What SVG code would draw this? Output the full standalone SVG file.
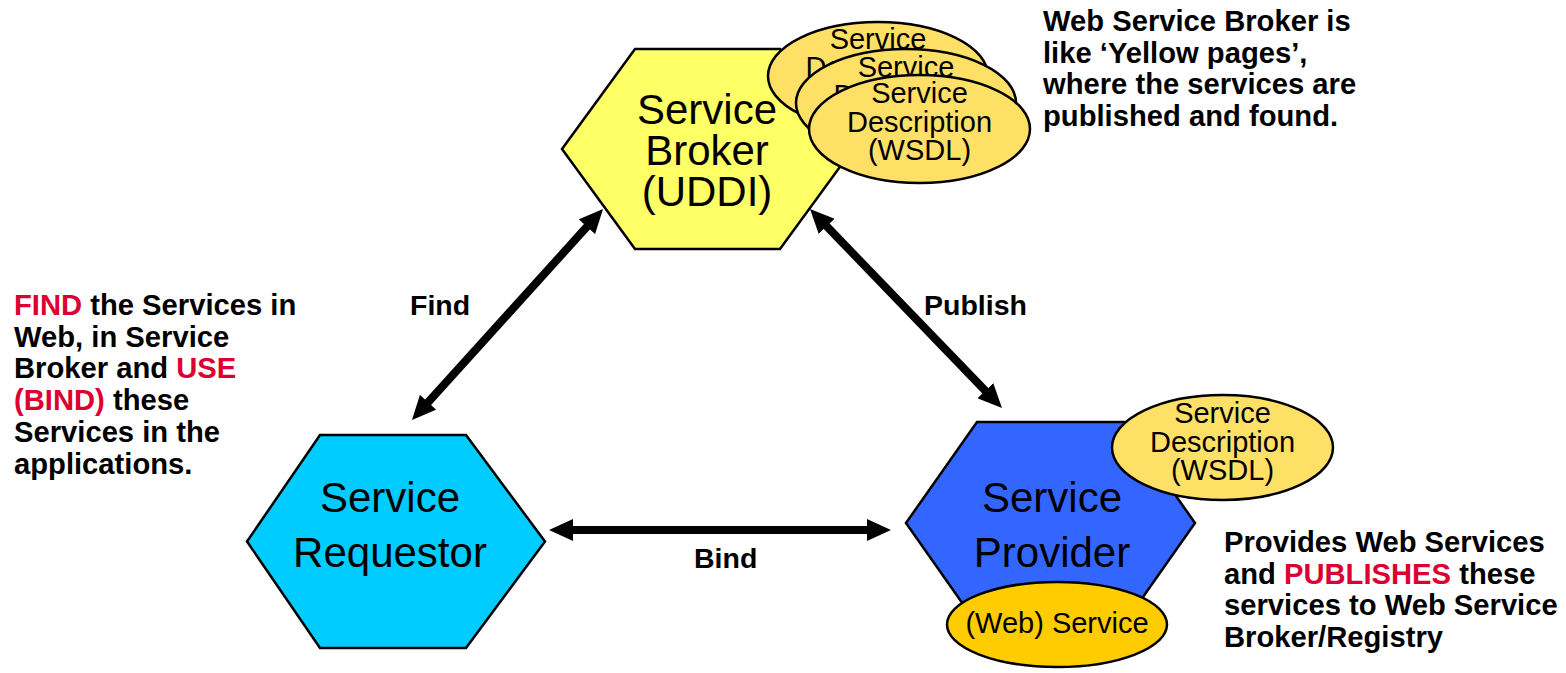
<svg xmlns="http://www.w3.org/2000/svg" width="1566" height="673" viewBox="0 0 1566 673">
<defs>
<style>
.hex{stroke:#000;stroke-width:2.5}
.ell{fill:#FFE066;stroke:#000;stroke-width:2.5}
.nt{font-family:"Liberation Sans",Arial,sans-serif;font-size:42px;text-anchor:middle;fill:#000}
.et{font-family:"Liberation Sans",Arial,sans-serif;font-size:29px;text-anchor:middle;fill:#000}
.bt{font-family:"Liberation Sans",Arial,sans-serif;font-size:28.5px;font-weight:bold;fill:#000}
.nb{font-family:"Liberation Sans",Arial,sans-serif;font-size:29.2px;font-weight:bold;fill:#000}
.red{fill:#DC0032}
.conn{stroke:#000;stroke-width:8;fill:none}
</style>
<marker id="ah" viewBox="0 0 24 22" refX="4" refY="11" markerWidth="24" markerHeight="22" markerUnits="userSpaceOnUse" orient="auto-start-reverse">
<path d="M0,0 L24,11 L0,22 z" fill="#000"/>
</marker>
</defs>
<rect width="1566" height="673" fill="#fff"/>

<g id="connectors">
<line class="conn" x1="569" y1="530" x2="871" y2="530" marker-start="url(#ah)" marker-end="url(#ah)"/>
<line class="conn" x1="425.4" y1="405.2" x2="589.6" y2="223.8" marker-start="url(#ah)" marker-end="url(#ah)"/>
<line class="conn" x1="823.9" y1="223.4" x2="988.1" y2="393.6" marker-start="url(#ah)" marker-end="url(#ah)"/>
<text class="bt" x="410" y="315">Find</text>
<text class="bt" x="924" y="315">Publish</text>
<text class="bt" x="694" y="568">Bind</text>
</g>

<g id="broker">
<polygon class="hex" fill="#FFFF66" points="562,149 635,49 780,49 853,149 780,249 635,249"/>
<text class="nt" x="707" y="124">Service</text>
<text class="nt" x="707" y="165">Broker</text>
<text class="nt" x="707" y="206">(UDDI)</text>
</g>

<g id="broker-desc-1">
<ellipse class="ell" cx="878" cy="76" rx="110" ry="54"/>
<text class="et" x="878" y="49">Service</text>
<text class="et" x="878" y="77">Description</text>
<text class="et" x="878" y="105">(WSDL)</text>
</g>
<g id="broker-desc-2">
<ellipse class="ell" cx="906" cy="103" rx="110" ry="54"/>
<text class="et" x="906" y="77">Service</text>
<text class="et" x="906" y="105">Description</text>
<text class="et" x="906" y="133">(WSDL)</text>
</g>
<g id="broker-desc-3">
<ellipse class="ell" cx="919.5" cy="129" rx="110.5" ry="54"/>
<text class="et" x="919.5" y="103">Service</text>
<text class="et" x="919.5" y="132">Description</text>
<text class="et" x="919.5" y="160">(WSDL)</text>
</g>

<g id="requestor">
<polygon class="hex" fill="#00CCFF" points="247,541.5 320,435 466,435 545,541.5 466,648 320,648"/>
<text class="nt" x="390" y="512">Service</text>
<text class="nt" x="390" y="567">Requestor</text>
</g>

<g id="provider">
<polygon class="hex" fill="#3366FF" points="906,523 977,422 1124,422 1195,523 1124,624 977,624"/>
<text class="nt" x="1052" y="512">Service</text>
<text class="nt" x="1052" y="567">Provider</text>
</g>

<g id="provider-desc">
<ellipse class="ell" cx="1222.5" cy="447.5" rx="110.5" ry="52.5"/>
<text class="et" x="1222.5" y="423">Service</text>
<text class="et" x="1222.5" y="452">Description</text>
<text class="et" x="1222.5" y="480">(WSDL)</text>
</g>

<g id="web-service">
<ellipse cx="1057" cy="624.5" rx="110" ry="42.5" fill="#FFCC00" stroke="#000" stroke-width="2.5"/>
<text class="et" x="1057" y="633">(Web) Service</text>
</g>

<g id="note-find">
<text class="nb" x="14" y="315"><tspan class="red">FIND</tspan> the Services in</text>
<text class="nb" x="14" y="346.7">Web, in Service</text>
<text class="nb" x="14" y="378.4">Broker and <tspan class="red">USE</tspan></text>
<text class="nb" x="14" y="410.1"><tspan class="red">(BIND)</tspan> these</text>
<text class="nb" x="14" y="441.8">Services in the</text>
<text class="nb" x="14" y="473.5">applications.</text>
</g>

<g id="note-broker">
<text class="nb" x="1043" y="31">Web Service Broker is</text>
<text class="nb" x="1043" y="62.7">like ‘Yellow pages’,</text>
<text class="nb" x="1043" y="94.4">where the services are</text>
<text class="nb" x="1043" y="126.1">published and found.</text>
</g>

<g id="note-provider">
<text class="nb" x="1224" y="552">Provides Web Services</text>
<text class="nb" x="1224" y="583.7">and <tspan class="red">PUBLISHES</tspan> these</text>
<text class="nb" x="1224" y="615.4">services to Web Service</text>
<text class="nb" x="1224" y="647.1">Broker/Registry</text>
</g>
</svg>
